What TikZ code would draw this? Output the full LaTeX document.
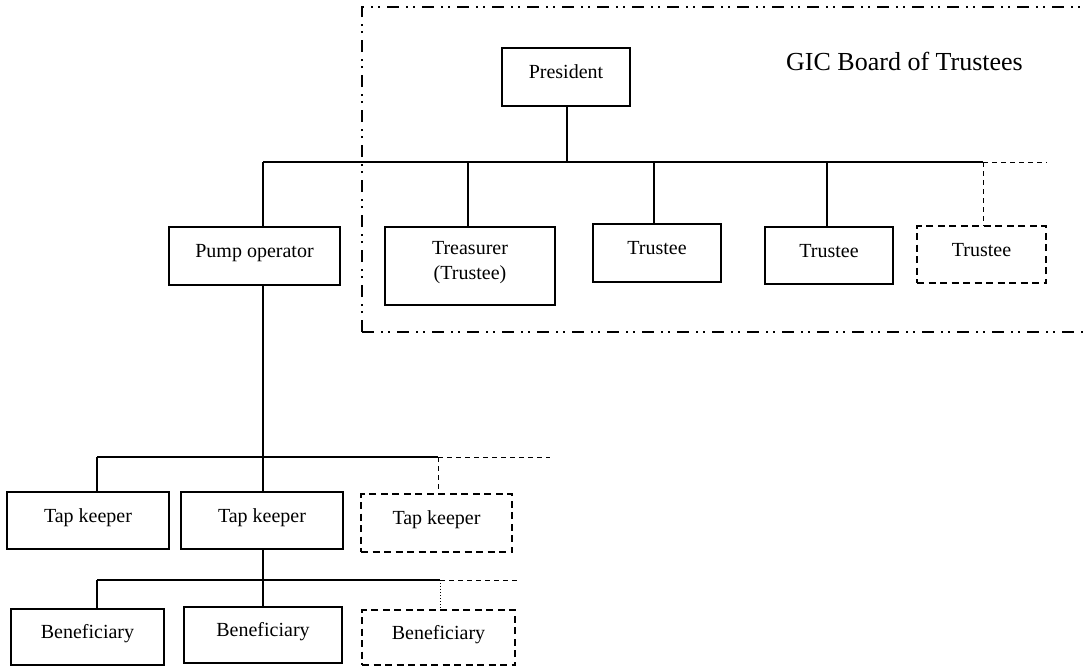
\documentclass[tikz,border=0pt]{standalone}
\usepackage{fontspec}
\setmainfont{Liberation Serif}
\begin{document}
\begin{tikzpicture}[x=1pt,y=-1pt,
  box/.style={draw, line width=1.5pt, inner sep=0pt, font=\fontsize{20}{24}\selectfont, text height=13.5pt, text depth=10pt},
  dbox/.style={box, dash pattern=on 7pt off 4.5pt},
  tbox/.style={draw, line width=1.5pt, inner sep=0pt, font=\fontsize{20}{25}\selectfont, align=center},
  link/.style={line width=1.5pt},
  dlink/.style={line width=1pt, dash pattern=on 5pt off 4pt},
  dotlink/.style={line width=1pt, dotted},
  frame/.style={line width=1.8pt, dash pattern=on 12pt off 7pt on 2pt off 5pt on 2pt off 7pt}]
\useasboundingbox (0,0) rectangle (1085,667);

% frame of the board
\draw[frame] (362,332) -- (362,7) -- (1090,7);
\draw[frame] (362,332) -- (1090,332);
\node[anchor=base west, font=\fontsize{26}{30}\selectfont, inner sep=0pt] (title) at (786,70) {GIC Board of Trustees};

% nodes
\node[box, minimum width=128pt, minimum height=58pt] (pres) at (566,77) {President};
\node[box, minimum width=171pt, minimum height=58pt] (pump) at (254.5,256) {Pump operator};
\node[tbox, minimum width=170pt, minimum height=78pt] (treas) at (470,266) {Treasurer\\(Trustee)\rule[-11pt]{0pt}{0pt}};
\node[box, minimum width=128pt, minimum height=58pt] (tr1) at (657,253) {Trustee};
\node[box, minimum width=128pt, minimum height=57pt] (tr2) at (829,255.5) {Trustee};
\node[dbox, minimum width=129pt, minimum height=57pt] (tr3) at (981.5,254.5) {Trustee};

\node[box, minimum width=162pt, minimum height=57pt] (tk1) at (88,520.5) {Tap keeper};
\node[box, minimum width=162pt, minimum height=57pt] (tk2) at (262,520.5) {Tap keeper};
\node[dbox, minimum width=151pt, minimum height=58pt] (tk3) at (436.5,523) {Tap keeper};

\node[box, minimum width=153pt, minimum height=56pt] (bn1) at (87.5,637) {Beneficiary};
\node[box, minimum width=158pt, minimum height=56pt] (bn2) at (263,635) {Beneficiary};
\node[dbox, minimum width=153pt, minimum height=55pt] (bn3) at (438.5,637.5) {Beneficiary};

% junctions
\coordinate (a0) at (263,162);
\coordinate (ap) at (567,162);
\coordinate (a1) at (468,162);
\coordinate (a2) at (654,162);
\coordinate (a3) at (827,162);
\coordinate (a4) at (983,162);
\coordinate (aE) at (1047,162);
\coordinate (tL) at (97,457);
\coordinate (tM) at (263,457);
\coordinate (tR) at (438,457);
\coordinate (tE) at (550,457);
\coordinate (bL) at (97,580);
\coordinate (bM) at (263,580);
\coordinate (bR) at (440,580);
\coordinate (bE) at (520,580);

% top level
\draw[link] (pres.south -| ap) -- (ap);
\draw[link] (a0) -- (a4);
\draw[dlink] (a4) -- (aE);
\draw[link] (a0) -- (a0 |- pump.north);
\draw[link] (a1) -- (a1 |- treas.north);
\draw[link] (a2) -- (a2 |- tr1.north);
\draw[link] (a3) -- (a3 |- tr2.north);
\draw[dlink] (a4) -- (a4 |- tr3.north);

% tap keepers
\draw[link] (pump.south -| tM) -- (tk2.north -| tM);
\draw[link] (tL) -- (tR);
\draw[dlink] (tR) -- (tE);
\draw[link] (tL) -- (tL |- tk1.north);
\draw[dlink] (tR) -- (tR |- tk3.north);

% beneficiaries
\draw[link] (tk2.south -| bM) -- (bn2.north -| bM);
\draw[link] (bL) -- (bR);
\draw[dlink] (bR) -- (bE);
\draw[link] (bL) -- (bL |- bn1.north);
\draw[dotlink] (bR) -- (bR |- bn3.north);
\end{tikzpicture}
\end{document}
